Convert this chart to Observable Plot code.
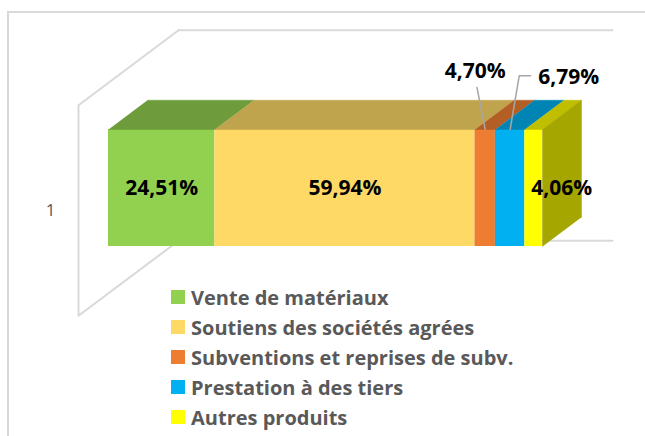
<!DOCTYPE html>
<html><head><meta charset="utf-8">
<script src="https://cdn.jsdelivr.net/npm/d3@7"></script>
<script src="https://cdn.jsdelivr.net/npm/@observablehq/plot@0.6"></script>
<style>
body{margin:0;background:#fff;overflow:hidden;font-family:"Open Sans",sans-serif;}
#frame{position:absolute;left:7px;top:11px;width:700px;height:500px;border-left:2px solid #d9d9d9;border-top:2px solid #d9d9d9;}
#chart{position:absolute;left:0;top:0;}
#legend{position:absolute;left:171px;top:282px;}
.row{height:30px;display:flex;align-items:center;font-weight:bold;font-size:20px;color:#595959;white-space:nowrap;}
.sw{width:14px;height:14px;margin-right:6px;flex:none;}
</style></head><body>
<div id="frame"></div>
<div id="chart"></div>
<div id="legend"></div>
<script>
// ---- data ----
const categories = ["Vente de matériaux", "Soutiens des sociétés agrées", "Subventions et reprises de subv.", "Prestation à des tiers", "Autres produits"];
const values = [24.51, 59.94, 4.70, 6.79, 4.06];
const colors = ["#92D050", "#FFD966", "#ED7D31", "#00B0F0", "#FFFF00"];
const categoryLabels = ["1"];

// ---- helpers ----
const fmt = v => v.toFixed(2).replace(".", ",") + "%";
function shade(c, k) { const r = d3.rgb(c); return d3.rgb(r.r * k, r.g * k, r.b * k).formatHex(); }
// oblique projection of depth (z) into the x/y data space
const DX = 23.04, DY = 0.641;
const P = (x, y, z) => ({x: x + z * DX, y: y + z * DY});
const BAR_Z = 0.39;

const ends = d3.cumsum(values);
const segs = values.map((v, i) => ({cat: categories[i], v, x1: ends[i] - v, x2: ends[i], mid: ends[i] - v / 2, color: colors[i]}));

const marks = [];
// 3D frame (walls / floor outline)
const frameStroke = {stroke: "#d9d9d9", strokeWidth: 2};
const W = {x0: 0, x1: 100, y0: -0.4, y1: 1.4, z0: -0.3, z1: 0.7};
marks.push(Plot.line([P(W.x0, W.y1, W.z1), P(W.x1, W.y1, W.z1)], {x: "x", y: "y", ...frameStroke}));
marks.push(Plot.line([P(W.x0, W.y1, W.z1), P(W.x0, W.y1, W.z0), P(W.x0, W.y0, W.z0), P(W.x0, W.y0, W.z1), P(W.x1, W.y0, W.z1)], {x: "x", y: "y", ...frameStroke}));

// front faces
segs.forEach(s => {
  marks.push(Plot.rect([s], {x1: "x1", x2: "x2", y1: () => 0, y2: () => 1, fill: s.color}));
});
// top faces
segs.forEach(s => {
  const poly = [P(s.x1, 1, 0), P(s.x2, 1, 0), P(s.x2, 1, BAR_Z), P(s.x1, 1, BAR_Z)];
  marks.push(Plot.line(poly, {x: "x", y: "y", fill: shade(s.color, 0.75), stroke: shade(s.color, 0.75), strokeWidth: 0.5}));
});
// right side face
const last = segs[segs.length - 1];
marks.push(Plot.line([P(100, 0, 0), P(100, 1, 0), P(100, 1, BAR_Z), P(100, 0, BAR_Z)], {x: "x", y: "y", fill: shade(last.color, 0.65), stroke: shade(last.color, 0.65), strokeWidth: 0.5}));

// category label on the front-left wall
marks.push(Plot.text(categoryLabels, {x: () => P(W.x0, 0.5, W.z0).x, y: () => P(W.x0, 0.5, W.z0).y, text: d => d, textAnchor: "end", dx: -23, fontSize: 17, fill: "#595959"}));

// data labels
const lab = {fontSize: 21, fontWeight: "bold", fill: "#000"};
[0, 1].forEach(i => marks.push(Plot.text([segs[i]], {x: "mid", y: () => 0.5, text: d => fmt(d.v), ...lab})));
// 4,70% : above-left with leader
{
  const s = segs[2];
  marks.push(Plot.line([{x: s.mid, y: 1}, {x: s.mid - 1.9, y: 1.36}], {x: "x", y: "y", stroke: "#a6a6a6", strokeWidth: 1.5}));
  marks.push(Plot.text([s], {x: "mid", y: () => 1, text: d => fmt(d.v), dx: -10, dy: -58, ...lab}));
}
// 6,79% : above-right with elbow leader
{
  const s = segs[3];
  marks.push(Plot.line([{x: s.mid, y: 1}, {x: s.mid + 2.1, y: 1.46}, {x: s.mid + 4.7, y: 1.46}], {x: "x", y: "y", stroke: "#a6a6a6", strokeWidth: 1.5}));
  marks.push(Plot.text([s], {x: "mid", y: () => 1, text: d => fmt(d.v), textAnchor: "start", dx: 28, dy: -52, ...lab}));
}
// 4,06% : right
{
  const s = segs[4];
  marks.push(Plot.text([s], {x: "mid", y: () => 0.5, text: d => fmt(d.v), dx: 28, ...lab}));
}

const chart = Plot.plot({
  width: 645, height: 282,
  margin: 0,
  x: {domain: [0, 100], range: [108, 542], axis: null},
  y: {domain: [0, 1], range: [246, 129], axis: null},
  style: {fontFamily: "'Open Sans', sans-serif", background: "transparent", overflow: "visible"},
  marks
});
document.getElementById("chart").appendChild(chart);

// legend
const lg = document.getElementById("legend");
categories.forEach((c, i) => {
  const row = document.createElement("div");
  row.className = "row";
  const sw = document.createElement("span");
  sw.className = "sw"; sw.style.background = colors[i];
  const t = document.createElement("span");
  t.textContent = c;
  row.appendChild(sw); row.appendChild(t);
  lg.appendChild(row);
});
</script>
</body></html>
